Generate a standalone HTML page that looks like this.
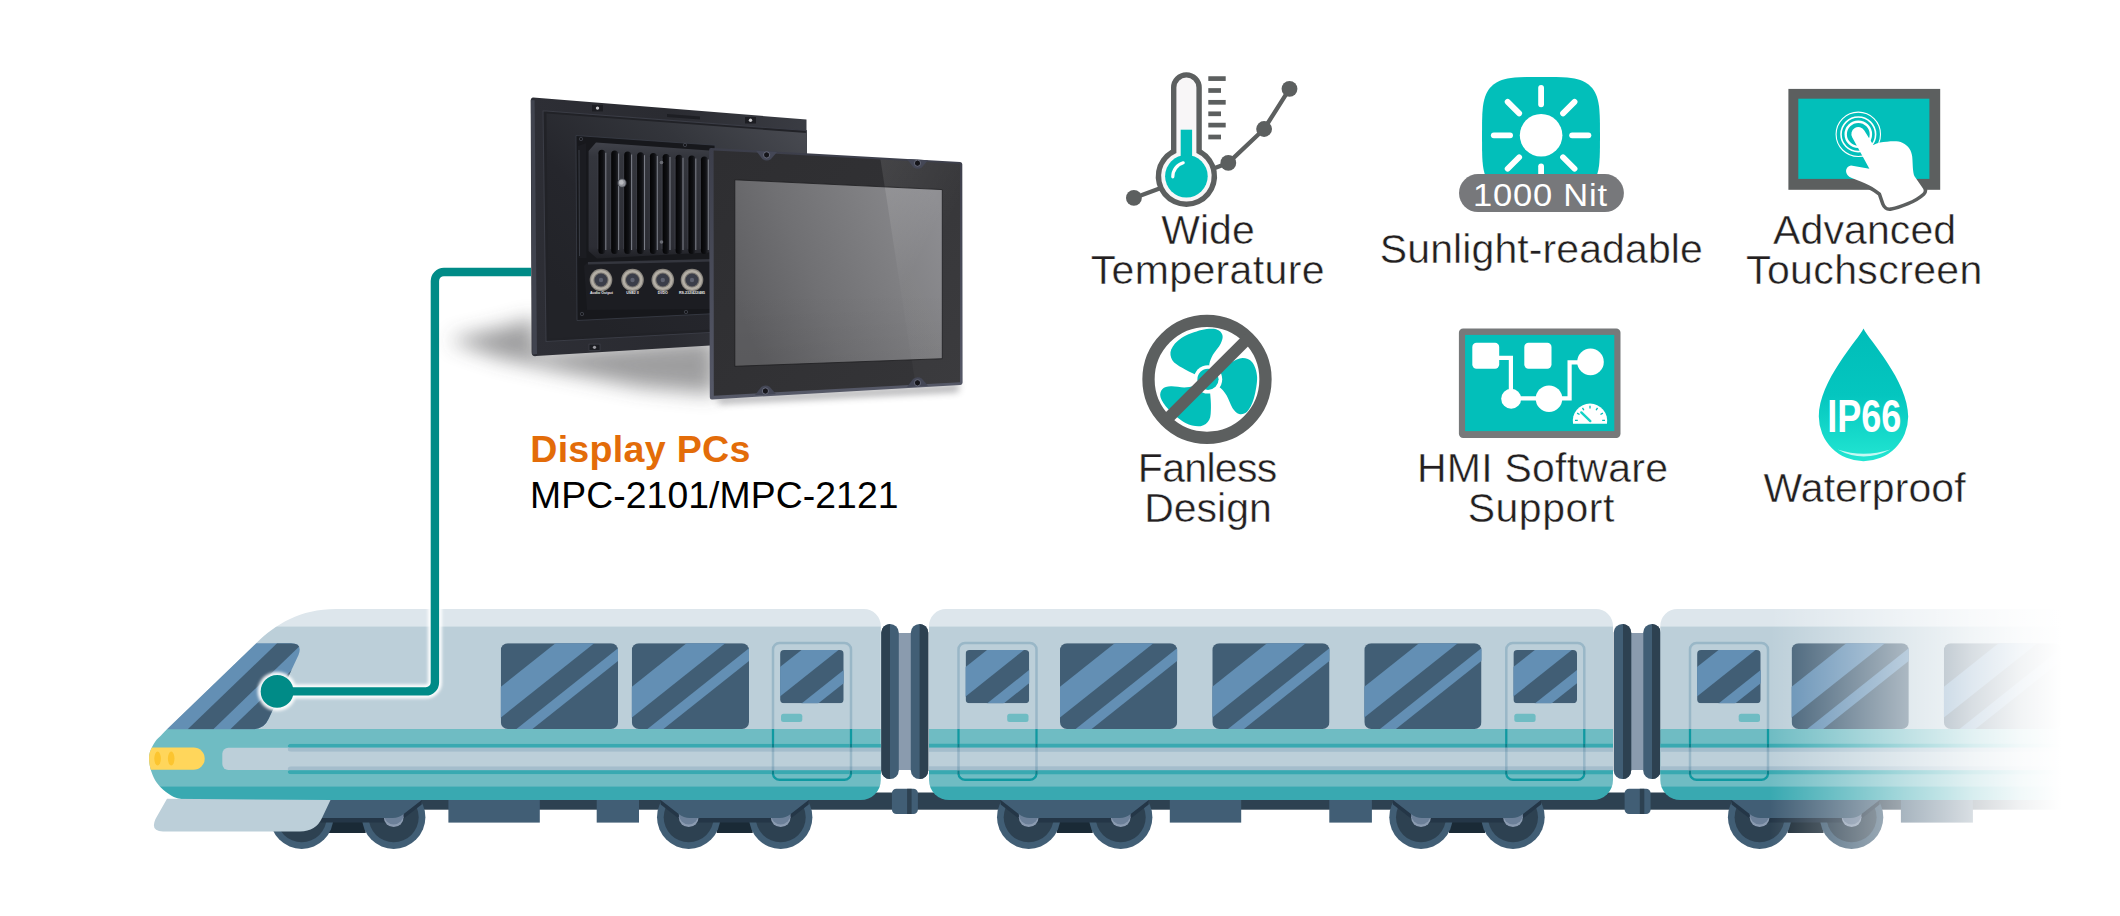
<!DOCTYPE html>
<html lang="en"><head><meta charset="utf-8"><title>Display PCs MPC-2101/MPC-2121</title>
<style>
html,body{margin:0;padding:0;background:#fff;}
body{width:2120px;height:916px;overflow:hidden;font-family:"Liberation Sans",sans-serif;}
svg{display:block;}
svg text{font-family:"Liberation Sans",sans-serif;}
</style></head><body>
<svg width="2120" height="916" viewBox="0 0 2120 916">
<defs>
<clipPath id="hubc"><rect x="0" y="800" width="2200" height="60"/></clipPath>
<clipPath id="car2"><path d="M946,609 H1596 a17,17 0 0 1 17,17 V780 a20,20 0 0 1 -20,20 H949 a20,20 0 0 1 -20,-20 V626 a17,17 0 0 1 17,-17 z"/></clipPath>
<clipPath id="car3"><path d="M1677.3,609 H2130 V800 H1680.3 a20,20 0 0 1 -20,-20 V626 a17,17 0 0 1 17,-17 z"/></clipPath>
<clipPath id="car1"><path d="M336,609 H863.8 a17,17 0 0 1 17,17 V780 a20,20 0 0 1 -20,20 H190 C187.78,799.67 180.70,799.35 176.70,798.00 C172.70,796.65 169.32,794.45 166.00,791.90 C162.68,789.35 159.22,786.02 156.80,782.70 C154.38,779.38 152.77,775.57 151.50,772.00 C150.23,768.43 149.47,764.62 149.20,761.30 C148.93,757.98 148.88,755.42 149.90,752.10 C150.92,748.78 153.53,744.08 155.30,741.40 C157.07,738.72 158.55,738.03 160.50,736.00 C162.45,733.97 165.92,730.33 167.00,729.20 L256.4,643 C276,624 300,609 336,609 Z"/></clipPath>
<clipPath id="lnc"><rect x="287.6" y="743.8" width="700" height="8" rx="3.6"/><rect x="287.6" y="766.3" width="700" height="8" rx="3.6"/><rect x="140" y="752" width="800" height="14"/></clipPath>
<clipPath id="wsc"><path d="M167,729.2 L256.4,643.2 H291 Q303,643.2 298.5,655 L268.5,719 Q264,729.2 253,729.2 Z"/></clipPath>
<clipPath id="bw0"><rect x="500.8" y="643.2" width="117.2" height="85.8" rx="7"/></clipPath>
<clipPath id="bw1"><rect x="631.8" y="643.2" width="117.2" height="85.8" rx="7"/></clipPath>
<clipPath id="bw2"><rect x="1060" y="643.2" width="117.2" height="85.8" rx="7"/></clipPath>
<clipPath id="bw3"><rect x="1212.3" y="643.2" width="117.2" height="85.8" rx="7"/></clipPath>
<clipPath id="bw4"><rect x="1364.3" y="643.2" width="117.2" height="85.8" rx="7"/></clipPath>
<clipPath id="bw5"><rect x="1791.6" y="643.2" width="117.2" height="85.8" rx="7"/></clipPath>
<clipPath id="bw6"><rect x="1943.9" y="643.2" width="117.2" height="85.8" rx="7"/></clipPath>
<clipPath id="dc0"><rect x="770" y="729" width="84" height="15"/><rect x="770" y="774" width="84" height="10"/></clipPath>
<clipPath id="dd0"><rect x="770" y="744" width="84" height="3.8"/><rect x="770" y="770.2" width="84" height="4"/></clipPath>
<clipPath id="de0"><rect x="770" y="747.8" width="84" height="4"/><rect x="770" y="766.4" width="84" height="3.8"/></clipPath>
<clipPath id="dw0"><rect x="780.1" y="650" width="63.6" height="53.3" rx="4"/></clipPath>
<clipPath id="dc1"><rect x="955.5" y="729" width="84" height="15"/><rect x="955.5" y="774" width="84" height="10"/></clipPath>
<clipPath id="dd1"><rect x="955.5" y="744" width="84" height="3.8"/><rect x="955.5" y="770.2" width="84" height="4"/></clipPath>
<clipPath id="de1"><rect x="955.5" y="747.8" width="84" height="4"/><rect x="955.5" y="766.4" width="84" height="3.8"/></clipPath>
<clipPath id="dw1"><rect x="965.6" y="650" width="63.6" height="53.3" rx="4"/></clipPath>
<clipPath id="dc2"><rect x="1503.3" y="729" width="84" height="15"/><rect x="1503.3" y="774" width="84" height="10"/></clipPath>
<clipPath id="dd2"><rect x="1503.3" y="744" width="84" height="3.8"/><rect x="1503.3" y="770.2" width="84" height="4"/></clipPath>
<clipPath id="de2"><rect x="1503.3" y="747.8" width="84" height="4"/><rect x="1503.3" y="766.4" width="84" height="3.8"/></clipPath>
<clipPath id="dw2"><rect x="1513.3999999999999" y="650" width="63.6" height="53.3" rx="4"/></clipPath>
<clipPath id="dc3"><rect x="1687" y="729" width="84" height="15"/><rect x="1687" y="774" width="84" height="10"/></clipPath>
<clipPath id="dd3"><rect x="1687" y="744" width="84" height="3.8"/><rect x="1687" y="770.2" width="84" height="4"/></clipPath>
<clipPath id="de3"><rect x="1687" y="747.8" width="84" height="4"/><rect x="1687" y="766.4" width="84" height="3.8"/></clipPath>
<clipPath id="dw3"><rect x="1697.1" y="650" width="63.6" height="53.3" rx="4"/></clipPath>
<linearGradient id="fade" gradientUnits="userSpaceOnUse" x1="1770" y1="0" x2="2062" y2="0"><stop offset="0" stop-color="#fff" stop-opacity="0"/><stop offset="0.277" stop-color="#fff" stop-opacity="0.33"/><stop offset="0.462" stop-color="#fff" stop-opacity="0.55"/><stop offset="0.596" stop-color="#fff" stop-opacity="0.69"/><stop offset="0.695" stop-color="#fff" stop-opacity="0.8"/><stop offset="0.856" stop-color="#fff" stop-opacity="0.93"/><stop offset="1" stop-color="#fff" stop-opacity="1"/></linearGradient>
<filter id="glow" x="-20%" y="-20%" width="140%" height="140%"><feGaussianBlur stdDeviation="1.6"/></filter>
</defs>
<rect x="320" y="792.5" width="1800" height="17.2" fill="#2d4151"/>
<rect x="448.4" y="800" width="91.4" height="22.6" fill="#415e75"/>
<rect x="596.7" y="800" width="42.3" height="22.6" fill="#415e75"/>
<rect x="1169.8" y="800" width="71.4" height="22.6" fill="#415e75"/>
<rect x="1329.3" y="800" width="42.6" height="22.6" fill="#415e75"/>
<rect x="1900.9" y="800" width="72.0" height="22.6" fill="#415e75"/>
<rect x="316" y="812" width="30" height="21" fill="#1a2a36"/>
<rect x="329.7" y="812" width="36" height="21" fill="#1a2a36"/><circle cx="301.7" cy="817.2" r="31.7" fill="#415e75"/><circle cx="301.7" cy="817.2" r="25" fill="#2d4151"/><circle cx="393.7" cy="817.2" r="31.7" fill="#415e75"/><circle cx="393.7" cy="817.2" r="25" fill="#2d4151"/><path d="M273.7,800 L421.7,800 L421.7,804.6 L403.7,818.6 Q398.7,822.6 392.7,822.6 L302.7,822.6 Q296.7,822.6 291.7,818.6 L273.7,804.6 Z" fill="#243647"/><circle cx="301.7" cy="817.2" r="9.9" fill="#8b9bb1"/><circle cx="301.7" cy="814.6" r="9.9" fill="#6c8099" clip-path="url(#hubc)"/><circle cx="393.7" cy="817.2" r="9.9" fill="#8b9bb1"/><circle cx="393.7" cy="814.6" r="9.9" fill="#6c8099" clip-path="url(#hubc)"/><path d="M273.7,800 L421.7,800 L421.7,800 L403.7,814 Q398.7,818 392.7,818 L302.7,818 Q296.7,818 291.7,814 L273.7,800 Z" fill="#415e75"/>
<rect x="716.7" y="812" width="36" height="21" fill="#1a2a36"/><circle cx="688.7" cy="817.2" r="31.7" fill="#415e75"/><circle cx="688.7" cy="817.2" r="25" fill="#2d4151"/><circle cx="780.7" cy="817.2" r="31.7" fill="#415e75"/><circle cx="780.7" cy="817.2" r="25" fill="#2d4151"/><path d="M660.7,800 L808.7,800 L808.7,804.6 L790.7,818.6 Q785.7,822.6 779.7,822.6 L689.7,822.6 Q683.7,822.6 678.7,818.6 L660.7,804.6 Z" fill="#243647"/><circle cx="688.7" cy="817.2" r="9.9" fill="#8b9bb1"/><circle cx="688.7" cy="814.6" r="9.9" fill="#6c8099" clip-path="url(#hubc)"/><circle cx="780.7" cy="817.2" r="9.9" fill="#8b9bb1"/><circle cx="780.7" cy="814.6" r="9.9" fill="#6c8099" clip-path="url(#hubc)"/><path d="M660.7,800 L808.7,800 L808.7,800 L790.7,814 Q785.7,818 779.7,818 L689.7,818 Q683.7,818 678.7,814 L660.7,800 Z" fill="#415e75"/>
<rect x="1056.7" y="812" width="36" height="21" fill="#1a2a36"/><circle cx="1028.7" cy="817.2" r="31.7" fill="#415e75"/><circle cx="1028.7" cy="817.2" r="25" fill="#2d4151"/><circle cx="1120.7" cy="817.2" r="31.7" fill="#415e75"/><circle cx="1120.7" cy="817.2" r="25" fill="#2d4151"/><path d="M1000.7,800 L1148.7,800 L1148.7,804.6 L1130.7,818.6 Q1125.7,822.6 1119.7,822.6 L1029.7,822.6 Q1023.7,822.6 1018.7,818.6 L1000.7,804.6 Z" fill="#243647"/><circle cx="1028.7" cy="817.2" r="9.9" fill="#8b9bb1"/><circle cx="1028.7" cy="814.6" r="9.9" fill="#6c8099" clip-path="url(#hubc)"/><circle cx="1120.7" cy="817.2" r="9.9" fill="#8b9bb1"/><circle cx="1120.7" cy="814.6" r="9.9" fill="#6c8099" clip-path="url(#hubc)"/><path d="M1000.7,800 L1148.7,800 L1148.7,800 L1130.7,814 Q1125.7,818 1119.7,818 L1029.7,818 Q1023.7,818 1018.7,814 L1000.7,800 Z" fill="#415e75"/>
<rect x="1449" y="812" width="36" height="21" fill="#1a2a36"/><circle cx="1421" cy="817.2" r="31.7" fill="#415e75"/><circle cx="1421" cy="817.2" r="25" fill="#2d4151"/><circle cx="1513" cy="817.2" r="31.7" fill="#415e75"/><circle cx="1513" cy="817.2" r="25" fill="#2d4151"/><path d="M1393,800 L1541,800 L1541,804.6 L1523,818.6 Q1518,822.6 1512,822.6 L1422,822.6 Q1416,822.6 1411,818.6 L1393,804.6 Z" fill="#243647"/><circle cx="1421" cy="817.2" r="9.9" fill="#8b9bb1"/><circle cx="1421" cy="814.6" r="9.9" fill="#6c8099" clip-path="url(#hubc)"/><circle cx="1513" cy="817.2" r="9.9" fill="#8b9bb1"/><circle cx="1513" cy="814.6" r="9.9" fill="#6c8099" clip-path="url(#hubc)"/><path d="M1393,800 L1541,800 L1541,800 L1523,814 Q1518,818 1512,818 L1422,818 Q1416,818 1411,814 L1393,800 Z" fill="#415e75"/>
<rect x="1787.6" y="812" width="36" height="21" fill="#1a2a36"/><circle cx="1759.6" cy="817.2" r="31.7" fill="#415e75"/><circle cx="1759.6" cy="817.2" r="25" fill="#2d4151"/><circle cx="1851.6" cy="817.2" r="31.7" fill="#415e75"/><circle cx="1851.6" cy="817.2" r="25" fill="#2d4151"/><path d="M1731.6,800 L1879.6,800 L1879.6,804.6 L1861.6,818.6 Q1856.6,822.6 1850.6,822.6 L1760.6,822.6 Q1754.6,822.6 1749.6,818.6 L1731.6,804.6 Z" fill="#243647"/><circle cx="1759.6" cy="817.2" r="9.9" fill="#8b9bb1"/><circle cx="1759.6" cy="814.6" r="9.9" fill="#6c8099" clip-path="url(#hubc)"/><circle cx="1851.6" cy="817.2" r="9.9" fill="#8b9bb1"/><circle cx="1851.6" cy="814.6" r="9.9" fill="#6c8099" clip-path="url(#hubc)"/><path d="M1731.6,800 L1879.6,800 L1879.6,800 L1861.6,814 Q1856.6,818 1850.6,818 L1760.6,818 Q1754.6,818 1749.6,814 L1731.6,800 Z" fill="#415e75"/>
<rect x="891.9" y="788.8" width="26" height="25.2" rx="4.5" fill="#415e75"/><rect x="907.1" y="788.8" width="4.5" height="25.2" fill="#2d4151"/>
<rect x="1624.6" y="788.8" width="26" height="25.2" rx="4.5" fill="#415e75"/><rect x="1639.8" y="788.8" width="4.5" height="25.2" fill="#2d4151"/>
<rect x="897.8" y="633" width="13.5" height="137" fill="#8a9bae"/><rect x="881.3" y="624" width="17.5" height="155" rx="8.7" fill="#415e75"/><path d="M890.0,624 a8.7,8.7 0 0 0 -8.7,8.7 v137.6 a8.7,8.7 0 0 0 8.7,8.7 z" fill="#2d4151"/><rect x="910.8" y="624" width="17.5" height="155" rx="8.7" fill="#415e75"/><path d="M919.5999999999999,624 a8.7,8.7 0 0 1 8.7,8.7 v137.6 a8.7,8.7 0 0 1 -8.7,8.7 z" fill="#2d4151"/>
<rect x="1630.2" y="633" width="13.5" height="137" fill="#8a9bae"/><rect x="1613.7" y="624" width="17.5" height="155" rx="8.7" fill="#415e75"/><path d="M1623.0,624 a8.2,8.7 0 0 1 8.2,8.7 v137.6 a8.2,8.7 0 0 1 -8.2,8.7 z" fill="#2d4151"/><rect x="1643.2" y="624" width="17.5" height="155" rx="8.7" fill="#415e75"/><path d="M1652.0,624 a8.7,8.7 0 0 1 8.7,8.7 v137.6 a8.7,8.7 0 0 1 -8.7,8.7 z" fill="#2d4151"/>
<g clip-path="url(#car2)"><rect x="920" y="600" width="700" height="27.5" fill="#dde6ec"/><rect x="920" y="626.6" width="700" height="103" fill="#bccfd9"/><rect x="920" y="729" width="700" height="58" fill="#6fbcc3"/><rect x="920" y="786.6" width="700" height="20" fill="#39a9b1"/><rect x="920" y="747.7" width="700" height="22.4" rx="0" fill="#bccfd9"/><rect x="920" y="743.8" width="700" height="4" rx="2" fill="#39a9b1"/><rect x="920" y="747.7" width="700" height="4.1" fill="#a4bdcc"/><rect x="920" y="766.3" width="700" height="4" fill="#a4bdcc"/><rect x="920" y="770.2" width="700" height="4.1" rx="2" fill="#39a9b1"/></g>
<g clip-path="url(#car3)"><rect x="1650" y="600" width="480" height="27.5" fill="#dde6ec"/><rect x="1650" y="626.6" width="480" height="103" fill="#bccfd9"/><rect x="1650" y="729" width="480" height="58" fill="#6fbcc3"/><rect x="1650" y="786.6" width="480" height="20" fill="#39a9b1"/><rect x="1650" y="747.7" width="480" height="22.4" rx="0" fill="#bccfd9"/><rect x="1650" y="743.8" width="480" height="4" rx="2" fill="#39a9b1"/><rect x="1650" y="747.7" width="480" height="4.1" fill="#a4bdcc"/><rect x="1650" y="766.3" width="480" height="4" fill="#a4bdcc"/><rect x="1650" y="770.2" width="480" height="4.1" rx="2" fill="#39a9b1"/></g>
<g clip-path="url(#car1)"><rect x="140" y="600" width="750" height="27.5" fill="#dde6ec"/><rect x="140" y="626.6" width="750" height="103" fill="#bccfd9"/><rect x="140" y="729" width="750" height="58" fill="#6fbcc3"/><rect x="140" y="786.6" width="750" height="20" fill="#39a9b1"/><rect x="222.3" y="747.7" width="700" height="22.4" rx="6" fill="#bccfd9"/><g clip-path="url(#lnc)"><rect x="287.6" y="747.7" width="700" height="22.4" rx="0" fill="#bccfd9"/><rect x="287.6" y="743.8" width="602.4" height="4" rx="2" fill="#39a9b1"/><rect x="287.6" y="747.7" width="602.4" height="4.1" fill="#a4bdcc"/><rect x="287.6" y="766.3" width="602.4" height="4" fill="#a4bdcc"/><rect x="287.6" y="770.2" width="602.4" height="4.1" rx="2" fill="#39a9b1"/></g><rect x="140" y="747.6" width="64.7" height="22.2" rx="11.1" fill="#ffd65b"/><ellipse cx="157.6" cy="758.6" rx="3.3" ry="7" fill="#fcc52f"/><ellipse cx="171.2" cy="758.6" rx="3.3" ry="7" fill="#fcc52f"/></g>
<g clip-path="url(#wsc)"><rect x="160" y="640" width="150" height="95" fill="#638fb4"/><polygon points="187.7,729.2 213.3,729.2 302.7,643.2 277.1,643.2" fill="#415e75"/><polygon points="230.3,729.2 280,729.2 369,643.2 319.7,643.2" fill="#415e75"/></g>
<path d="M167,798.8 L155.5,819 Q150,831.4 163,831.4 H300 Q316,831.4 322,818 L330.5,800 Z" fill="#bccfd9"/>
<g clip-path="url(#bw0)"><rect x="500.8" y="643.2" width="117.2" height="85.8" fill="#415e75"/><polygon points="490.8,694.7 628.0,585.6 628.0,616.4 490.8,725.5" fill="#638fb4"/><polygon points="490.8,749.4 628.0,640.3 628.0,653.0 490.8,762.1" fill="#638fb4"/></g>
<g clip-path="url(#bw1)"><rect x="631.8" y="643.2" width="117.2" height="85.8" fill="#415e75"/><polygon points="621.8,694.7 759.0,585.6 759.0,616.4 621.8,725.5" fill="#638fb4"/><polygon points="621.8,749.4 759.0,640.3 759.0,653.0 621.8,762.1" fill="#638fb4"/></g>
<g clip-path="url(#bw2)"><rect x="1060" y="643.2" width="117.2" height="85.8" fill="#415e75"/><polygon points="1050.0,694.7 1187.2,585.6 1187.2,616.4 1050.0,725.5" fill="#638fb4"/><polygon points="1050.0,749.4 1187.2,640.3 1187.2,653.0 1050.0,762.1" fill="#638fb4"/></g>
<g clip-path="url(#bw3)"><rect x="1212.3" y="643.2" width="117.2" height="85.8" fill="#415e75"/><polygon points="1202.3,694.7 1339.5,585.6 1339.5,616.4 1202.3,725.5" fill="#638fb4"/><polygon points="1202.3,749.4 1339.5,640.3 1339.5,653.0 1202.3,762.1" fill="#638fb4"/></g>
<g clip-path="url(#bw4)"><rect x="1364.3" y="643.2" width="117.2" height="85.8" fill="#415e75"/><polygon points="1354.3,694.7 1491.5,585.6 1491.5,616.4 1354.3,725.5" fill="#638fb4"/><polygon points="1354.3,749.4 1491.5,640.3 1491.5,653.0 1354.3,762.1" fill="#638fb4"/></g>
<g clip-path="url(#bw5)"><rect x="1791.6" y="643.2" width="117.2" height="85.8" fill="#415e75"/><polygon points="1781.6,694.7 1918.8,585.6 1918.8,616.4 1781.6,725.5" fill="#638fb4"/><polygon points="1781.6,749.4 1918.8,640.3 1918.8,653.0 1781.6,762.1" fill="#638fb4"/></g>
<g clip-path="url(#bw6)"><rect x="1943.9" y="643.2" width="117.2" height="85.8" fill="#415e75"/><polygon points="1933.9,694.7 2071.1,585.6 2071.1,616.4 1933.9,725.5" fill="#638fb4"/><polygon points="1933.9,749.4 2071.1,640.3 2071.1,653.0 1933.9,762.1" fill="#638fb4"/></g>
<rect x="773" y="643" width="78" height="136.8" rx="6.5" fill="none" stroke="#99b7c7" stroke-width="2.5"/><rect x="773" y="643" width="78" height="136.8" rx="6.5" fill="none" stroke="#0f9aa1" stroke-width="2.4" clip-path="url(#dc0)"/><rect x="773" y="643" width="78" height="136.8" rx="6.5" fill="none" stroke="#0b828b" stroke-width="2.4" clip-path="url(#dd0)"/><rect x="773" y="643" width="78" height="136.8" rx="6.5" fill="none" stroke="#86a8bb" stroke-width="2.4" clip-path="url(#de0)"/><g clip-path="url(#dw0)"><rect x="780.1" y="650" width="63.6" height="53.3" fill="#415e75"/><polygon points="770.1,675.0 853.7,608.5 853.7,637.9 770.1,704.4" fill="#638fb4"/><polygon points="770.1,728.5 853.7,662.0 853.7,675.2 770.1,741.7" fill="#638fb4"/></g><rect x="781" y="713.8" width="21.3" height="8.2" rx="2.5" fill="#6fbcc3"/>
<rect x="958.5" y="643" width="78" height="136.8" rx="6.5" fill="none" stroke="#99b7c7" stroke-width="2.5"/><rect x="958.5" y="643" width="78" height="136.8" rx="6.5" fill="none" stroke="#0f9aa1" stroke-width="2.4" clip-path="url(#dc1)"/><rect x="958.5" y="643" width="78" height="136.8" rx="6.5" fill="none" stroke="#0b828b" stroke-width="2.4" clip-path="url(#dd1)"/><rect x="958.5" y="643" width="78" height="136.8" rx="6.5" fill="none" stroke="#86a8bb" stroke-width="2.4" clip-path="url(#de1)"/><g clip-path="url(#dw1)"><rect x="965.6" y="650" width="63.6" height="53.3" fill="#415e75"/><polygon points="955.6,675.0 1039.2,608.5 1039.2,637.9 955.6,704.4" fill="#638fb4"/><polygon points="955.6,728.5 1039.2,662.0 1039.2,675.2 955.6,741.7" fill="#638fb4"/></g><rect x="1007.2" y="713.8" width="21.3" height="8.2" rx="2.5" fill="#6fbcc3"/>
<rect x="1506.3" y="643" width="78" height="136.8" rx="6.5" fill="none" stroke="#99b7c7" stroke-width="2.5"/><rect x="1506.3" y="643" width="78" height="136.8" rx="6.5" fill="none" stroke="#0f9aa1" stroke-width="2.4" clip-path="url(#dc2)"/><rect x="1506.3" y="643" width="78" height="136.8" rx="6.5" fill="none" stroke="#0b828b" stroke-width="2.4" clip-path="url(#dd2)"/><rect x="1506.3" y="643" width="78" height="136.8" rx="6.5" fill="none" stroke="#86a8bb" stroke-width="2.4" clip-path="url(#de2)"/><g clip-path="url(#dw2)"><rect x="1513.3999999999999" y="650" width="63.6" height="53.3" fill="#415e75"/><polygon points="1503.4,675.0 1587.0,608.5 1587.0,637.9 1503.4,704.4" fill="#638fb4"/><polygon points="1503.4,728.5 1587.0,662.0 1587.0,675.2 1503.4,741.7" fill="#638fb4"/></g><rect x="1514.3" y="713.8" width="21.3" height="8.2" rx="2.5" fill="#6fbcc3"/>
<rect x="1690" y="643" width="78" height="136.8" rx="6.5" fill="none" stroke="#99b7c7" stroke-width="2.5"/><rect x="1690" y="643" width="78" height="136.8" rx="6.5" fill="none" stroke="#0f9aa1" stroke-width="2.4" clip-path="url(#dc3)"/><rect x="1690" y="643" width="78" height="136.8" rx="6.5" fill="none" stroke="#0b828b" stroke-width="2.4" clip-path="url(#dd3)"/><rect x="1690" y="643" width="78" height="136.8" rx="6.5" fill="none" stroke="#86a8bb" stroke-width="2.4" clip-path="url(#de3)"/><g clip-path="url(#dw3)"><rect x="1697.1" y="650" width="63.6" height="53.3" fill="#415e75"/><polygon points="1687.1,675.0 1770.7,608.5 1770.7,637.9 1687.1,704.4" fill="#638fb4"/><polygon points="1687.1,728.5 1770.7,662.0 1770.7,675.2 1687.1,741.7" fill="#638fb4"/></g><rect x="1738.7" y="713.8" width="21.3" height="8.2" rx="2.5" fill="#6fbcc3"/>
<rect x="1770" y="600" width="350" height="270" fill="url(#fade)"/>
<g filter="url(#glow)" opacity="0.95"><path d="M277,691.4 H425.9 a9,9 0 0 0 9,-9 V281 a9,9 0 0 1 9,-9 H531" fill="none" stroke="#fff" stroke-width="14"/><circle cx="277.1" cy="691.4" r="19.5" fill="#fff"/></g>
<path d="M277,691.4 H425.9 a9,9 0 0 0 9,-9 V281 a9,9 0 0 1 9,-9 H531" fill="none" stroke="#008b87" stroke-width="8.4"/><circle cx="277.1" cy="691.4" r="16.4" fill="#008b87"/>
<defs><filter id="sh1" x="-30%" y="-60%" width="160%" height="220%"><feGaussianBlur stdDeviation="10"/></filter>
<filter id="sh2" x="-10%" y="-100%" width="120%" height="300%"><feGaussianBlur stdDeviation="3.5"/></filter>
<linearGradient id="ipg" gradientUnits="userSpaceOnUse" x1="800" y1="115" x2="600" y2="330"><stop offset="0" stop-color="#4a4c53"/><stop offset="0.35" stop-color="#33353b"/><stop offset="0.7" stop-color="#25262c"/><stop offset="1" stop-color="#222328"/></linearGradient>
<linearGradient id="bkg" x1="0" y1="0" x2="1" y2="0"><stop offset="0" stop-color="#2d2e35"/><stop offset="0.5" stop-color="#2a2b31"/><stop offset="1" stop-color="#3a3c43"/></linearGradient>
<linearGradient id="hsb" x1="0" y1="0" x2="0" y2="1"><stop offset="0" stop-color="#41434b"/><stop offset="0.12" stop-color="#34363d"/><stop offset="0.9" stop-color="#2c2d34"/><stop offset="1" stop-color="#1f2025"/></linearGradient>
<linearGradient id="grv" x1="0" y1="0" x2="1" y2="0"><stop offset="0" stop-color="#040405"/><stop offset="0.6" stop-color="#0e0f12"/><stop offset="1" stop-color="#23242a"/></linearGradient>
<linearGradient id="edg" x1="0" y1="0" x2="0" y2="1"><stop offset="0" stop-color="#3c3e4a"/><stop offset="1" stop-color="#565968"/></linearGradient>
<linearGradient id="bzg" gradientUnits="userSpaceOnUse" x1="714" y1="160" x2="960" y2="390"><stop offset="0" stop-color="#2e2e31"/><stop offset="0.5" stop-color="#313134"/><stop offset="1" stop-color="#353538"/></linearGradient>
<clipPath id="bzc"><polygon points="713.6,150.4 960,163.7 960,382.2 713.8,395.7"/></clipPath>
<linearGradient id="shg" gradientUnits="userSpaceOnUse" x1="880" y1="160" x2="960" y2="200"><stop offset="0" stop-color="#fff" stop-opacity="0.10"/><stop offset="1" stop-color="#fff" stop-opacity="0.03"/></linearGradient>
<linearGradient id="scg" gradientUnits="userSpaceOnUse" x1="735" y1="300" x2="942" y2="215"><stop offset="0" stop-color="#5e5e61"/><stop offset="0.35" stop-color="#707073"/><stop offset="0.7" stop-color="#7f7f82"/><stop offset="1" stop-color="#8b8b8f"/></linearGradient>
<clipPath id="scc"><polygon points="734.8,179.8 942.3,189.6 942.3,358.7 734.8,366.3"/></clipPath>
<linearGradient id="scs" gradientUnits="userSpaceOnUse" x1="884" y1="180" x2="942" y2="210"><stop offset="0" stop-color="#fff" stop-opacity="0.13"/><stop offset="1" stop-color="#fff" stop-opacity="0.02"/></linearGradient>
<linearGradient id="scb" x1="0" y1="0" x2="0" y2="1"><stop offset="0" stop-color="#000" stop-opacity="0"/><stop offset="0.6" stop-color="#000" stop-opacity="0"/><stop offset="1" stop-color="#000" stop-opacity="0.05"/></linearGradient></defs>
<g id="product">
<g filter="url(#sh1)" opacity="0.5">
<polygon points="448.0,340.0 500.0,328.0 536.0,318.0 536.0,352.0 716.0,338.0 716.0,394.0 640.0,387.0 560.0,371.0 500.0,358.0" fill="#3c3c40" />
</g>
<g filter="url(#sh2)" opacity="0.45">
<polygon points="716.0,397.0 960.0,384.0 958.0,392.0 720.0,404.0" fill="#55555a" />
</g>
<path d="M533.2,97.5 L806.5,119.5 L806.5,339.8 L536,356.1 Q531.5,356.6 531.6,352 L530.7,101 Q530.7,97.4 533.2,97.5 Z" fill="url(#bkg)"/>
<polygon points="530.9,100.0 534.6,100.3 537.0,354.0 532.2,354.5" fill="#41444f" />
<polygon points="543.0,110.8 806.3,130.5 806.3,327.2 546.0,341.5" fill="#212227" stroke="#3a3c45" stroke-width="1.1" stroke-linejoin="round"/>
<polygon points="546.5,113.6 806.3,133.0 806.3,324.2 549.0,338.3" fill="url(#ipg)" />
<rect x="592" y="104.9" width="11" height="6.5" fill="#1c1d22"/><circle cx="597.5" cy="108.1" r="1.7" fill="#c9c9cc"/>
<rect x="745" y="117.0" width="11" height="6.5" fill="#1c1d22"/><circle cx="750.5" cy="120.2" r="1.7" fill="#c9c9cc"/>
<rect x="589" y="344.1" width="11" height="6.5" fill="#1c1d22" stroke="#454852" stroke-width="0.6"/><circle cx="594.5" cy="347.3" r="1.6" fill="#9a9aa0"/>
<polygon points="667.0,113.9 700.0,116.6 700.0,119.6 667.0,116.9" fill="#1d1e23" />
<polygon points="576.0,135.5 715.0,145.2 715.0,313.6 577.0,320.5" fill="#17181c" stroke="#3a3d47" stroke-width="0.8"/>
<polygon points="578.0,146.0 586.0,143.0 586.5,258.0 578.5,258.0" fill="#1b1c21" />
<line x1="579" y1="150" x2="579.5" y2="256" stroke="#43464f" stroke-width="0.8"/>
<polygon points="588.6,151.0 596.0,142.6 716.0,151.0 716.0,252.0 597.0,258.5 588.6,251.0" fill="url(#hsb)" />
<rect x="598.4" y="149.7" width="7" height="104.3" rx="3.5" fill="url(#grv)"/>
<line x1="605.8" y1="152.7" x2="605.8" y2="250.0" stroke="#787b85" stroke-width="1.1"/>
<line x1="597.7" y1="153.7" x2="597.7" y2="249.0" stroke="#3d3f47" stroke-width="0.7"/>
<rect x="611.2" y="150.6" width="7" height="103.4" rx="3.5" fill="url(#grv)"/>
<line x1="618.6" y1="153.6" x2="618.6" y2="250.0" stroke="#787b85" stroke-width="1.1"/>
<line x1="610.5" y1="154.6" x2="610.5" y2="249.0" stroke="#3d3f47" stroke-width="0.7"/>
<rect x="624.2" y="151.4" width="7" height="102.6" rx="3.5" fill="url(#grv)"/>
<line x1="631.6" y1="154.4" x2="631.6" y2="250.0" stroke="#787b85" stroke-width="1.1"/>
<line x1="623.5" y1="155.4" x2="623.5" y2="249.0" stroke="#3d3f47" stroke-width="0.7"/>
<rect x="637.1" y="152.2" width="7" height="101.8" rx="3.5" fill="url(#grv)"/>
<line x1="644.5" y1="155.2" x2="644.5" y2="250.0" stroke="#787b85" stroke-width="1.1"/>
<line x1="636.4" y1="156.2" x2="636.4" y2="249.0" stroke="#3d3f47" stroke-width="0.7"/>
<rect x="649.9" y="153.1" width="7" height="100.9" rx="3.5" fill="url(#grv)"/>
<line x1="657.3" y1="156.1" x2="657.3" y2="250.0" stroke="#787b85" stroke-width="1.1"/>
<line x1="649.2" y1="157.1" x2="649.2" y2="249.0" stroke="#3d3f47" stroke-width="0.7"/>
<rect x="662.6" y="153.9" width="7" height="100.1" rx="3.5" fill="url(#grv)"/>
<line x1="670.0" y1="156.9" x2="670.0" y2="250.0" stroke="#787b85" stroke-width="1.1"/>
<line x1="661.9" y1="157.9" x2="661.9" y2="249.0" stroke="#3d3f47" stroke-width="0.7"/>
<rect x="675.6" y="154.7" width="7" height="99.3" rx="3.5" fill="url(#grv)"/>
<line x1="683.0" y1="157.7" x2="683.0" y2="250.0" stroke="#787b85" stroke-width="1.1"/>
<line x1="674.9" y1="158.7" x2="674.9" y2="249.0" stroke="#3d3f47" stroke-width="0.7"/>
<rect x="688.4" y="155.6" width="7" height="98.4" rx="3.5" fill="url(#grv)"/>
<line x1="695.8" y1="158.6" x2="695.8" y2="250.0" stroke="#787b85" stroke-width="1.1"/>
<line x1="687.7" y1="159.6" x2="687.7" y2="249.0" stroke="#3d3f47" stroke-width="0.7"/>
<rect x="700.9" y="156.4" width="7" height="97.6" rx="3.5" fill="url(#grv)"/>
<line x1="708.3" y1="159.4" x2="708.3" y2="250.0" stroke="#787b85" stroke-width="1.1"/>
<line x1="700.2" y1="160.4" x2="700.2" y2="249.0" stroke="#3d3f47" stroke-width="0.7"/>
<circle cx="622" cy="183" r="4.7" fill="#3e4048"/><circle cx="622" cy="183" r="3.7" fill="#8f9198"/><circle cx="621.4" cy="182.4" r="2.3" fill="#b9babf"/>
<circle cx="661.5" cy="162.5" r="1.8" fill="#6a6c74"/><circle cx="661.5" cy="242" r="1.8" fill="#6a6c74"/>
<polygon points="588.0,262.0 715.0,259.0 715.0,309.0 587.0,310.0 584.0,266.0" fill="#1c1d22" />
<polygon points="588.0,262.0 715.0,259.0 715.0,261.5 588.0,264.5" fill="#34363e" />
<circle cx="601" cy="280" r="11.3" fill="#8a867f"/>
<circle cx="601" cy="280" r="10.1" fill="#b3aea5"/>
<circle cx="601" cy="280" r="7.6" fill="#7c7872"/>
<circle cx="601" cy="280" r="6.5" fill="#3a3d49"/>
<circle cx="601" cy="280" r="2.2" fill="#5d6170"/>
<circle cx="632.5" cy="280" r="11.3" fill="#8a867f"/>
<circle cx="632.5" cy="280" r="10.1" fill="#b3aea5"/>
<circle cx="632.5" cy="280" r="7.6" fill="#7c7872"/>
<circle cx="632.5" cy="280" r="6.5" fill="#3a3d49"/>
<circle cx="632.5" cy="280" r="2.2" fill="#5d6170"/>
<circle cx="662.8" cy="280" r="11.3" fill="#8a867f"/>
<circle cx="662.8" cy="280" r="10.1" fill="#b3aea5"/>
<circle cx="662.8" cy="280" r="7.6" fill="#7c7872"/>
<circle cx="662.8" cy="280" r="6.5" fill="#3a3d49"/>
<circle cx="662.8" cy="280" r="2.2" fill="#5d6170"/>
<circle cx="692" cy="280" r="11.3" fill="#8a867f"/>
<circle cx="692" cy="280" r="10.1" fill="#b3aea5"/>
<circle cx="692" cy="280" r="7.6" fill="#7c7872"/>
<circle cx="692" cy="280" r="6.5" fill="#3a3d49"/>
<circle cx="692" cy="280" r="2.2" fill="#5d6170"/>
<text x="601.5" y="294.2" font-size="3.6" font-weight="bold" fill="#e8e8ea" text-anchor="middle">Audio Output</text>
<text x="632.5" y="294.2" font-size="3.6" font-weight="bold" fill="#e8e8ea" text-anchor="middle">USB2 II</text>
<text x="662.8" y="294.2" font-size="3.6" font-weight="bold" fill="#e8e8ea" text-anchor="middle">DI/DO</text>
<text x="692" y="294.2" font-size="3.6" font-weight="bold" fill="#e8e8ea" text-anchor="middle">RS-232/422/485</text>
<circle cx="581" cy="139" r="1.7" fill="none" stroke="#474a54" stroke-width="0.7"/>
<circle cx="685" cy="145" r="1.7" fill="none" stroke="#474a54" stroke-width="0.7"/>
<circle cx="582" cy="314" r="1.7" fill="none" stroke="#474a54" stroke-width="0.7"/>
<circle cx="686" cy="312" r="1.7" fill="none" stroke="#474a54" stroke-width="0.7"/>
<path d="M711.2,147.9 L960.2,161.9 Q962.3,162.1 962.3,164.2 L962.6,382.6 Q962.6,384.7 960.4,384.9 L712,399.4 Q709.8,399.5 709.8,397.2 L709.1,150.2 Q709.1,147.8 711.2,147.9 Z" fill="url(#edg)"/>
<polygon points="713.6,150.4 960.0,163.7 960.0,382.2 713.8,395.7" fill="url(#bzg)" />
<g clip-path="url(#bzc)"><polygon points="879,150 965,150 965,400 918,400" fill="url(#shg)"/></g>
<polygon points="734.8,179.8 942.3,189.6 942.3,358.7 734.8,366.3" fill="url(#scg)" />
<g clip-path="url(#scc)"><polygon points="883,175 950,175 950,370 913,370" fill="url(#scs)"/><rect x="730" y="175" width="220" height="195" fill="url(#scb)"/></g>
<polygon points="734.8,179.8 942.3,189.6 942.3,358.7 734.8,366.3" fill="none" stroke="#1d1d1f" stroke-width="0.8"/>
<path d="M756.1,150.70000000000002 L762.4,158.9 Q766.6,161.9 770.8000000000001,159.20000000000002 L777.1,151.9 Z" fill="#444756"/>
<circle cx="766.6" cy="154.9" r="3.1" fill="#15151a"/><circle cx="766.6" cy="154.9" r="3.1" fill="none" stroke="#767a8c" stroke-width="0.8"/>
<path d="M907.0,159.0 L913.3,167.2 Q917.5,170.2 921.7,167.5 L928.0,160.2 Z" fill="#444756"/>
<circle cx="917.5" cy="163.2" r="3.1" fill="#15151a"/><circle cx="917.5" cy="163.2" r="3.1" fill="none" stroke="#767a8c" stroke-width="0.8"/>
<path d="M754.9,395.20000000000005 L761.1999999999999,387.0 Q765.4,384.0 769.6,386.70000000000005 L775.9,394.0 Z" fill="#444756"/>
<circle cx="765.4" cy="391.0" r="3.1" fill="#15151a"/><circle cx="765.4" cy="391.0" r="3.1" fill="none" stroke="#767a8c" stroke-width="0.8"/>
<path d="M907.0,387.0 L913.3,378.79999999999995 Q917.5,375.79999999999995 921.7,378.5 L928.0,385.79999999999995 Z" fill="#444756"/>
<circle cx="917.5" cy="382.79999999999995" r="3.1" fill="#15151a"/><circle cx="917.5" cy="382.79999999999995" r="3.1" fill="none" stroke="#767a8c" stroke-width="0.8"/>
</g>
<defs><clipPath id="handc"><rect x="1780" y="178.9" width="170" height="50"/></clipPath>
<linearGradient id="dropg" x1="0" y1="0" x2="0" y2="1"><stop offset="0" stop-color="#00bdb9"/><stop offset="0.5" stop-color="#04c6bf"/><stop offset="1" stop-color="#22e6d2"/></linearGradient></defs>
<g id="icons">
<polyline points="1133.9,197.9 1228.3,162.9 1264.1,129 1289.5,88.8" fill="none" stroke="#5c5f5f" stroke-width="4.3" stroke-linejoin="round"/>
<circle cx="1133.9" cy="197.9" r="7.9" fill="#5c5f5f"/>
<circle cx="1228.3" cy="162.9" r="7.9" fill="#5c5f5f"/>
<circle cx="1264.1" cy="129" r="7.9" fill="#5c5f5f"/>
<circle cx="1289.5" cy="88.8" r="7.9" fill="#5c5f5f"/>
<path d="M1171.0,149.64 V87.60000000000001 a15.4,15.4 0 0 1 30.8,0 V149.64 A30.7,30.7 0 1 1 1171.0,149.64 Z" fill="#5c5f5f"/>
<path d="M1176.4,152.96 V87.6 a10.0,10.0 0 0 1 20.0,0 V152.96 A25.3,25.3 0 1 1 1176.4,152.96 Z" fill="#f8f6f7"/>
<rect x="1180.7" y="129.7" width="11.4" height="40" fill="#02bfba"/>
<circle cx="1186.4" cy="176.2" r="21.3" fill="#02bfba"/>
<path d="M1172.8000000000002,176.79999999999998 A14.5,14.5 0 0 1 1183.2,162.79999999999998" fill="none" stroke="#fff" stroke-width="3.2" stroke-linecap="round"/>
<rect x="1208.3" y="76.25" width="17.4" height="4.7" fill="#5c5f5f"/>
<rect x="1208.3" y="88.15" width="12.7" height="4.7" fill="#5c5f5f"/>
<rect x="1208.3" y="99.95" width="17.4" height="4.7" fill="#5c5f5f"/>
<rect x="1208.3" y="111.45" width="12.7" height="4.7" fill="#5c5f5f"/>
<rect x="1208.3" y="122.75" width="17.4" height="4.7" fill="#5c5f5f"/>
<rect x="1208.3" y="134.65" width="12.7" height="4.7" fill="#5c5f5f"/>
<path d="M1600.0,136.0 L1599.9,151.1 L1599.7,157.3 L1599.4,162.1 L1599.0,166.0 L1598.4,169.5 L1597.7,172.5 L1596.9,175.2 L1595.9,177.7 L1594.8,180.0 L1593.6,182.0 L1592.2,183.9 L1590.6,185.6 L1588.9,187.2 L1587.0,188.6 L1585.0,189.8 L1582.7,190.9 L1580.2,191.9 L1577.5,192.7 L1574.5,193.4 L1571.0,194.0 L1567.1,194.4 L1562.3,194.7 L1556.1,194.9 L1541.0,195.0 L1525.9,194.9 L1519.7,194.7 L1514.9,194.4 L1511.0,194.0 L1507.5,193.4 L1504.5,192.7 L1501.8,191.9 L1499.3,190.9 L1497.0,189.8 L1495.0,188.6 L1493.1,187.2 L1491.4,185.6 L1489.8,183.9 L1488.4,182.0 L1487.2,180.0 L1486.1,177.7 L1485.1,175.2 L1484.3,172.5 L1483.6,169.5 L1483.0,166.0 L1482.6,162.1 L1482.3,157.3 L1482.1,151.1 L1482.0,136.0 L1482.1,120.9 L1482.3,114.7 L1482.6,109.9 L1483.0,106.0 L1483.6,102.5 L1484.3,99.5 L1485.1,96.8 L1486.1,94.3 L1487.2,92.0 L1488.4,90.0 L1489.8,88.1 L1491.4,86.4 L1493.1,84.8 L1495.0,83.4 L1497.0,82.2 L1499.3,81.1 L1501.8,80.1 L1504.5,79.3 L1507.5,78.6 L1511.0,78.0 L1514.9,77.6 L1519.7,77.3 L1525.9,77.1 L1541.0,77.0 L1556.1,77.1 L1562.3,77.3 L1567.1,77.6 L1571.0,78.0 L1574.5,78.6 L1577.5,79.3 L1580.2,80.1 L1582.7,81.1 L1585.0,82.2 L1587.0,83.4 L1588.9,84.8 L1590.6,86.4 L1592.2,88.1 L1593.6,90.0 L1594.8,92.0 L1595.9,94.3 L1596.9,96.8 L1597.7,99.5 L1598.4,102.5 L1599.0,106.0 L1599.4,109.9 L1599.7,114.7 L1599.9,120.9 Z" fill="#02bfba"/>
<circle cx="1541.1" cy="135.3" r="21.3" fill="#fff"/>
<line x1="1572.10" y1="135.30" x2="1588.40" y2="135.30" stroke="#fff" stroke-width="5.8" stroke-linecap="round"/>
<line x1="1563.02" y1="157.22" x2="1574.55" y2="168.75" stroke="#fff" stroke-width="5.8" stroke-linecap="round"/>
<line x1="1541.10" y1="166.30" x2="1541.10" y2="182.60" stroke="#fff" stroke-width="5.8" stroke-linecap="round"/>
<line x1="1519.18" y1="157.22" x2="1507.65" y2="168.75" stroke="#fff" stroke-width="5.8" stroke-linecap="round"/>
<line x1="1510.10" y1="135.30" x2="1493.80" y2="135.30" stroke="#fff" stroke-width="5.8" stroke-linecap="round"/>
<line x1="1519.18" y1="113.38" x2="1507.65" y2="101.85" stroke="#fff" stroke-width="5.8" stroke-linecap="round"/>
<line x1="1541.10" y1="104.30" x2="1541.10" y2="88.00" stroke="#fff" stroke-width="5.8" stroke-linecap="round"/>
<line x1="1563.02" y1="113.38" x2="1574.55" y2="101.85" stroke="#fff" stroke-width="5.8" stroke-linecap="round"/>
<rect x="1459" y="174.1" width="164.9" height="38" rx="19" fill="#77787b"/>
<text transform="translate(1540.4,206.2) scale(1.12,1)" font-size="30.8" fill="#fff" text-anchor="middle" letter-spacing="0.7">1000 Nit</text>
<rect x="1788.4" y="88.9" width="151.8" height="100.9" fill="#5c5f5f"/>
<rect x="1798.3" y="98.7" width="131.1" height="80.2" fill="#02bfba"/>
<circle cx="1858.3" cy="134.3" r="22.2" fill="none" stroke="#fff" stroke-width="1.1"/>
<circle cx="1858.3" cy="134.3" r="17.3" fill="none" stroke="#fff" stroke-width="1.6"/>
<circle cx="1858.3" cy="134.3" r="12.6" fill="none" stroke="#fff" stroke-width="2.4"/>
<path d="M1852.3,137.5 A6.9,6.9 0 0 1 1864.3,130.5 L1873.3,145 C1878,142.6 1883,141.6 1887,141.7 C1893,141 1899,141 1902.3,142.7 C1909,146 1911.5,151 1912.2,156.4 C1913,165 1912.5,171 1914.5,176.3 L1923,188.5 C1924,190 1924,191.5 1922.5,193 C1915,200 1900,205.5 1891,207.3 C1887,208 1885.5,206 1884.5,203.5 L1880.9,193.1 C1874,187 1866,183.5 1851.8,178 C1844,175 1844.5,166.5 1851,165.4 L1869.4,168.7 Z" fill="#5c5f5f" stroke="#5c5f5f" stroke-width="7" stroke-linejoin="round" clip-path="url(#handc)"/>
<path d="M1852.3,137.5 A6.9,6.9 0 0 1 1864.3,130.5 L1873.3,145 C1878,142.6 1883,141.6 1887,141.7 C1893,141 1899,141 1902.3,142.7 C1909,146 1911.5,151 1912.2,156.4 C1913,165 1912.5,171 1914.5,176.3 L1923,188.5 C1924,190 1924,191.5 1922.5,193 C1915,200 1900,205.5 1891,207.3 C1887,208 1885.5,206 1884.5,203.5 L1880.9,193.1 C1874,187 1866,183.5 1851.8,178 C1844,175 1844.5,166.5 1851,165.4 L1869.4,168.7 Z" fill="#fff"/>
<path d="M5.50,-4.50 C6.50,-6.78 8.60,-7.18 11.50,-9.20 C14.40,-11.22 19.08,-14.58 22.90,-16.60 C26.72,-18.62 30.85,-21.23 34.40,-21.30 C37.95,-21.37 41.75,-20.17 44.20,-17.00 C46.65,-13.83 48.82,-8.30 49.10,-2.30 C49.38,3.70 47.53,13.27 45.90,19.00 C44.27,24.73 41.77,29.50 39.30,32.10 C36.83,34.70 33.55,35.15 31.10,34.60 C28.65,34.05 26.65,31.82 24.60,28.80 C22.55,25.78 20.77,19.80 18.80,16.50 C16.83,13.20 15.02,11.00 12.80,9.00 C10.58,7.00 6.72,6.75 5.50,4.50 C4.28,2.25 4.50,-2.22 5.50,-4.50 Z" fill="#02bfba" transform="translate(1208,379.35) rotate(0)"/>
<path d="M5.50,-4.50 C6.50,-6.78 8.60,-7.18 11.50,-9.20 C14.40,-11.22 19.08,-14.58 22.90,-16.60 C26.72,-18.62 30.85,-21.23 34.40,-21.30 C37.95,-21.37 41.75,-20.17 44.20,-17.00 C46.65,-13.83 48.82,-8.30 49.10,-2.30 C49.38,3.70 47.53,13.27 45.90,19.00 C44.27,24.73 41.77,29.50 39.30,32.10 C36.83,34.70 33.55,35.15 31.10,34.60 C28.65,34.05 26.65,31.82 24.60,28.80 C22.55,25.78 20.77,19.80 18.80,16.50 C16.83,13.20 15.02,11.00 12.80,9.00 C10.58,7.00 6.72,6.75 5.50,4.50 C4.28,2.25 4.50,-2.22 5.50,-4.50 Z" fill="#02bfba" transform="translate(1208,379.35) rotate(120)"/>
<path d="M5.50,-4.50 C6.50,-6.78 8.60,-7.18 11.50,-9.20 C14.40,-11.22 19.08,-14.58 22.90,-16.60 C26.72,-18.62 30.85,-21.23 34.40,-21.30 C37.95,-21.37 41.75,-20.17 44.20,-17.00 C46.65,-13.83 48.82,-8.30 49.10,-2.30 C49.38,3.70 47.53,13.27 45.90,19.00 C44.27,24.73 41.77,29.50 39.30,32.10 C36.83,34.70 33.55,35.15 31.10,34.60 C28.65,34.05 26.65,31.82 24.60,28.80 C22.55,25.78 20.77,19.80 18.80,16.50 C16.83,13.20 15.02,11.00 12.80,9.00 C10.58,7.00 6.72,6.75 5.50,4.50 C4.28,2.25 4.50,-2.22 5.50,-4.50 Z" fill="#02bfba" transform="translate(1208,379.35) rotate(240)"/>
<circle cx="1208" cy="379.35" r="14.2" fill="#fff"/>
<circle cx="1208" cy="379.35" r="10.6" fill="#02bfba"/>
<circle cx="1207" cy="379.35" r="58.5" fill="none" stroke="#5c5f5f" stroke-width="12.3"/>
<line x1="1248.37" y1="337.98" x2="1165.63" y2="420.72" stroke="#5c5f5f" stroke-width="11.6"/>
<rect x="1458.9" y="328.5" width="161.6" height="109.5" rx="4.2" fill="#77797a"/>
<rect x="1465.1" y="334.9" width="149.2" height="96.2" fill="#02bfba"/>
<rect x="1472.3" y="342.7" width="26.9" height="26.1" rx="4.2" fill="#fff"/>
<rect x="1524.3" y="342.7" width="27.2" height="26.1" rx="4.2" fill="#fff"/>
<path d="M1499,357.8 H1510.9 V398.4 H1569.6 V362.4 H1590" fill="none" stroke="#fff" stroke-width="4.2"/>
<circle cx="1511.2" cy="398.7" r="10" fill="#fff"/>
<circle cx="1549" cy="398.7" r="13.3" fill="#fff"/>
<circle cx="1590.5" cy="361.9" r="13.3" fill="#fff"/>
<path d="M1573.06,423.8 A17.2,17.2 0 1 1 1606.94,423.8 Z" fill="#fff"/>
<line x1="1577.81" y1="420.37" x2="1575.01" y2="420.28" stroke="#02bfba" stroke-width="1.3"/>
<line x1="1579.54" y1="414.52" x2="1577.14" y2="413.07" stroke="#02bfba" stroke-width="1.3"/>
<line x1="1583.90" y1="410.23" x2="1582.50" y2="407.81" stroke="#02bfba" stroke-width="1.3"/>
<line x1="1590.00" y1="408.60" x2="1590.00" y2="405.80" stroke="#02bfba" stroke-width="1.3"/>
<line x1="1596.10" y1="410.23" x2="1597.50" y2="407.81" stroke="#02bfba" stroke-width="1.3"/>
<line x1="1600.46" y1="414.52" x2="1602.86" y2="413.07" stroke="#02bfba" stroke-width="1.3"/>
<line x1="1602.19" y1="420.37" x2="1604.99" y2="420.28" stroke="#02bfba" stroke-width="1.3"/>
<line x1="1590.3" y1="421.1" x2="1581.3" y2="412.40000000000003" stroke="#14d3c6" stroke-width="2.4" stroke-linecap="round"/>
<path d="M1863.5,328.4 C1868.5,339.4 1908.2,380.6 1908.2,416.6 A44.7,44.7 0 0 1 1818.8,416.6 C1818.8,380.6 1858.5,339.4 1863.5,328.4 Z" fill="url(#dropg)"/>
<path d="M1837.5,449.6 Q1863.5,463.6 1890.5,449.6 Q1863.5,458.1 1837.5,449.6 Z" fill="#d6fbf6" opacity="0.9"/>
<text transform="translate(1864.2,432) scale(0.79,1)" font-size="45.6" font-weight="bold" fill="#fff" text-anchor="middle">IP66</text>
</g>
<g id="labels">
<text x="1208" y="243.5" font-size="41" fill="#231f20" text-anchor="middle" font-weight="normal" stroke="#fff" stroke-width="0.45">Wide</text>
<text x="1207.8" y="283.8" font-size="41" fill="#231f20" text-anchor="middle" font-weight="normal" letter-spacing="0.37" stroke="#fff" stroke-width="0.45">Temperature</text>
<text x="1541.4" y="263.4" font-size="41" fill="#231f20" text-anchor="middle" font-weight="normal" letter-spacing="0.1" stroke="#fff" stroke-width="0.45">Sunlight-readable</text>
<text x="1864.7" y="243.9" font-size="41" fill="#231f20" text-anchor="middle" font-weight="normal" letter-spacing="0.1" stroke="#fff" stroke-width="0.45">Advanced</text>
<text x="1864.4" y="283.7" font-size="41" fill="#231f20" text-anchor="middle" font-weight="normal" letter-spacing="0.38" stroke="#fff" stroke-width="0.45">Touchscreen</text>
<text x="1207.2" y="482.1" font-size="41" fill="#231f20" text-anchor="middle" font-weight="normal" letter-spacing="-0.7" stroke="#fff" stroke-width="0.45">Fanless</text>
<text x="1208" y="522.1" font-size="41" fill="#231f20" text-anchor="middle" font-weight="normal" stroke="#fff" stroke-width="0.45">Design</text>
<text x="1542.6" y="481.9" font-size="41" fill="#231f20" text-anchor="middle" font-weight="normal" letter-spacing="0.24" stroke="#fff" stroke-width="0.45">HMI Software</text>
<text x="1541.3" y="521.8" font-size="41" fill="#231f20" text-anchor="middle" font-weight="normal" letter-spacing="0.52" stroke="#fff" stroke-width="0.45">Support</text>
<text x="1864.6" y="502.2" font-size="41" fill="#231f20" text-anchor="middle" font-weight="normal" letter-spacing="0.1" stroke="#fff" stroke-width="0.45">Waterproof</text>
<text x="530.2" y="461.5" font-size="37.6" fill="#e36c09" text-anchor="start" font-weight="bold" letter-spacing="0.3">Display PCs</text>
<text x="530" y="507.7" font-size="37.3" fill="#000" text-anchor="start" font-weight="normal" letter-spacing="0.1">MPC-2101/MPC-2121</text>
</g>

</svg>
</body></html>
